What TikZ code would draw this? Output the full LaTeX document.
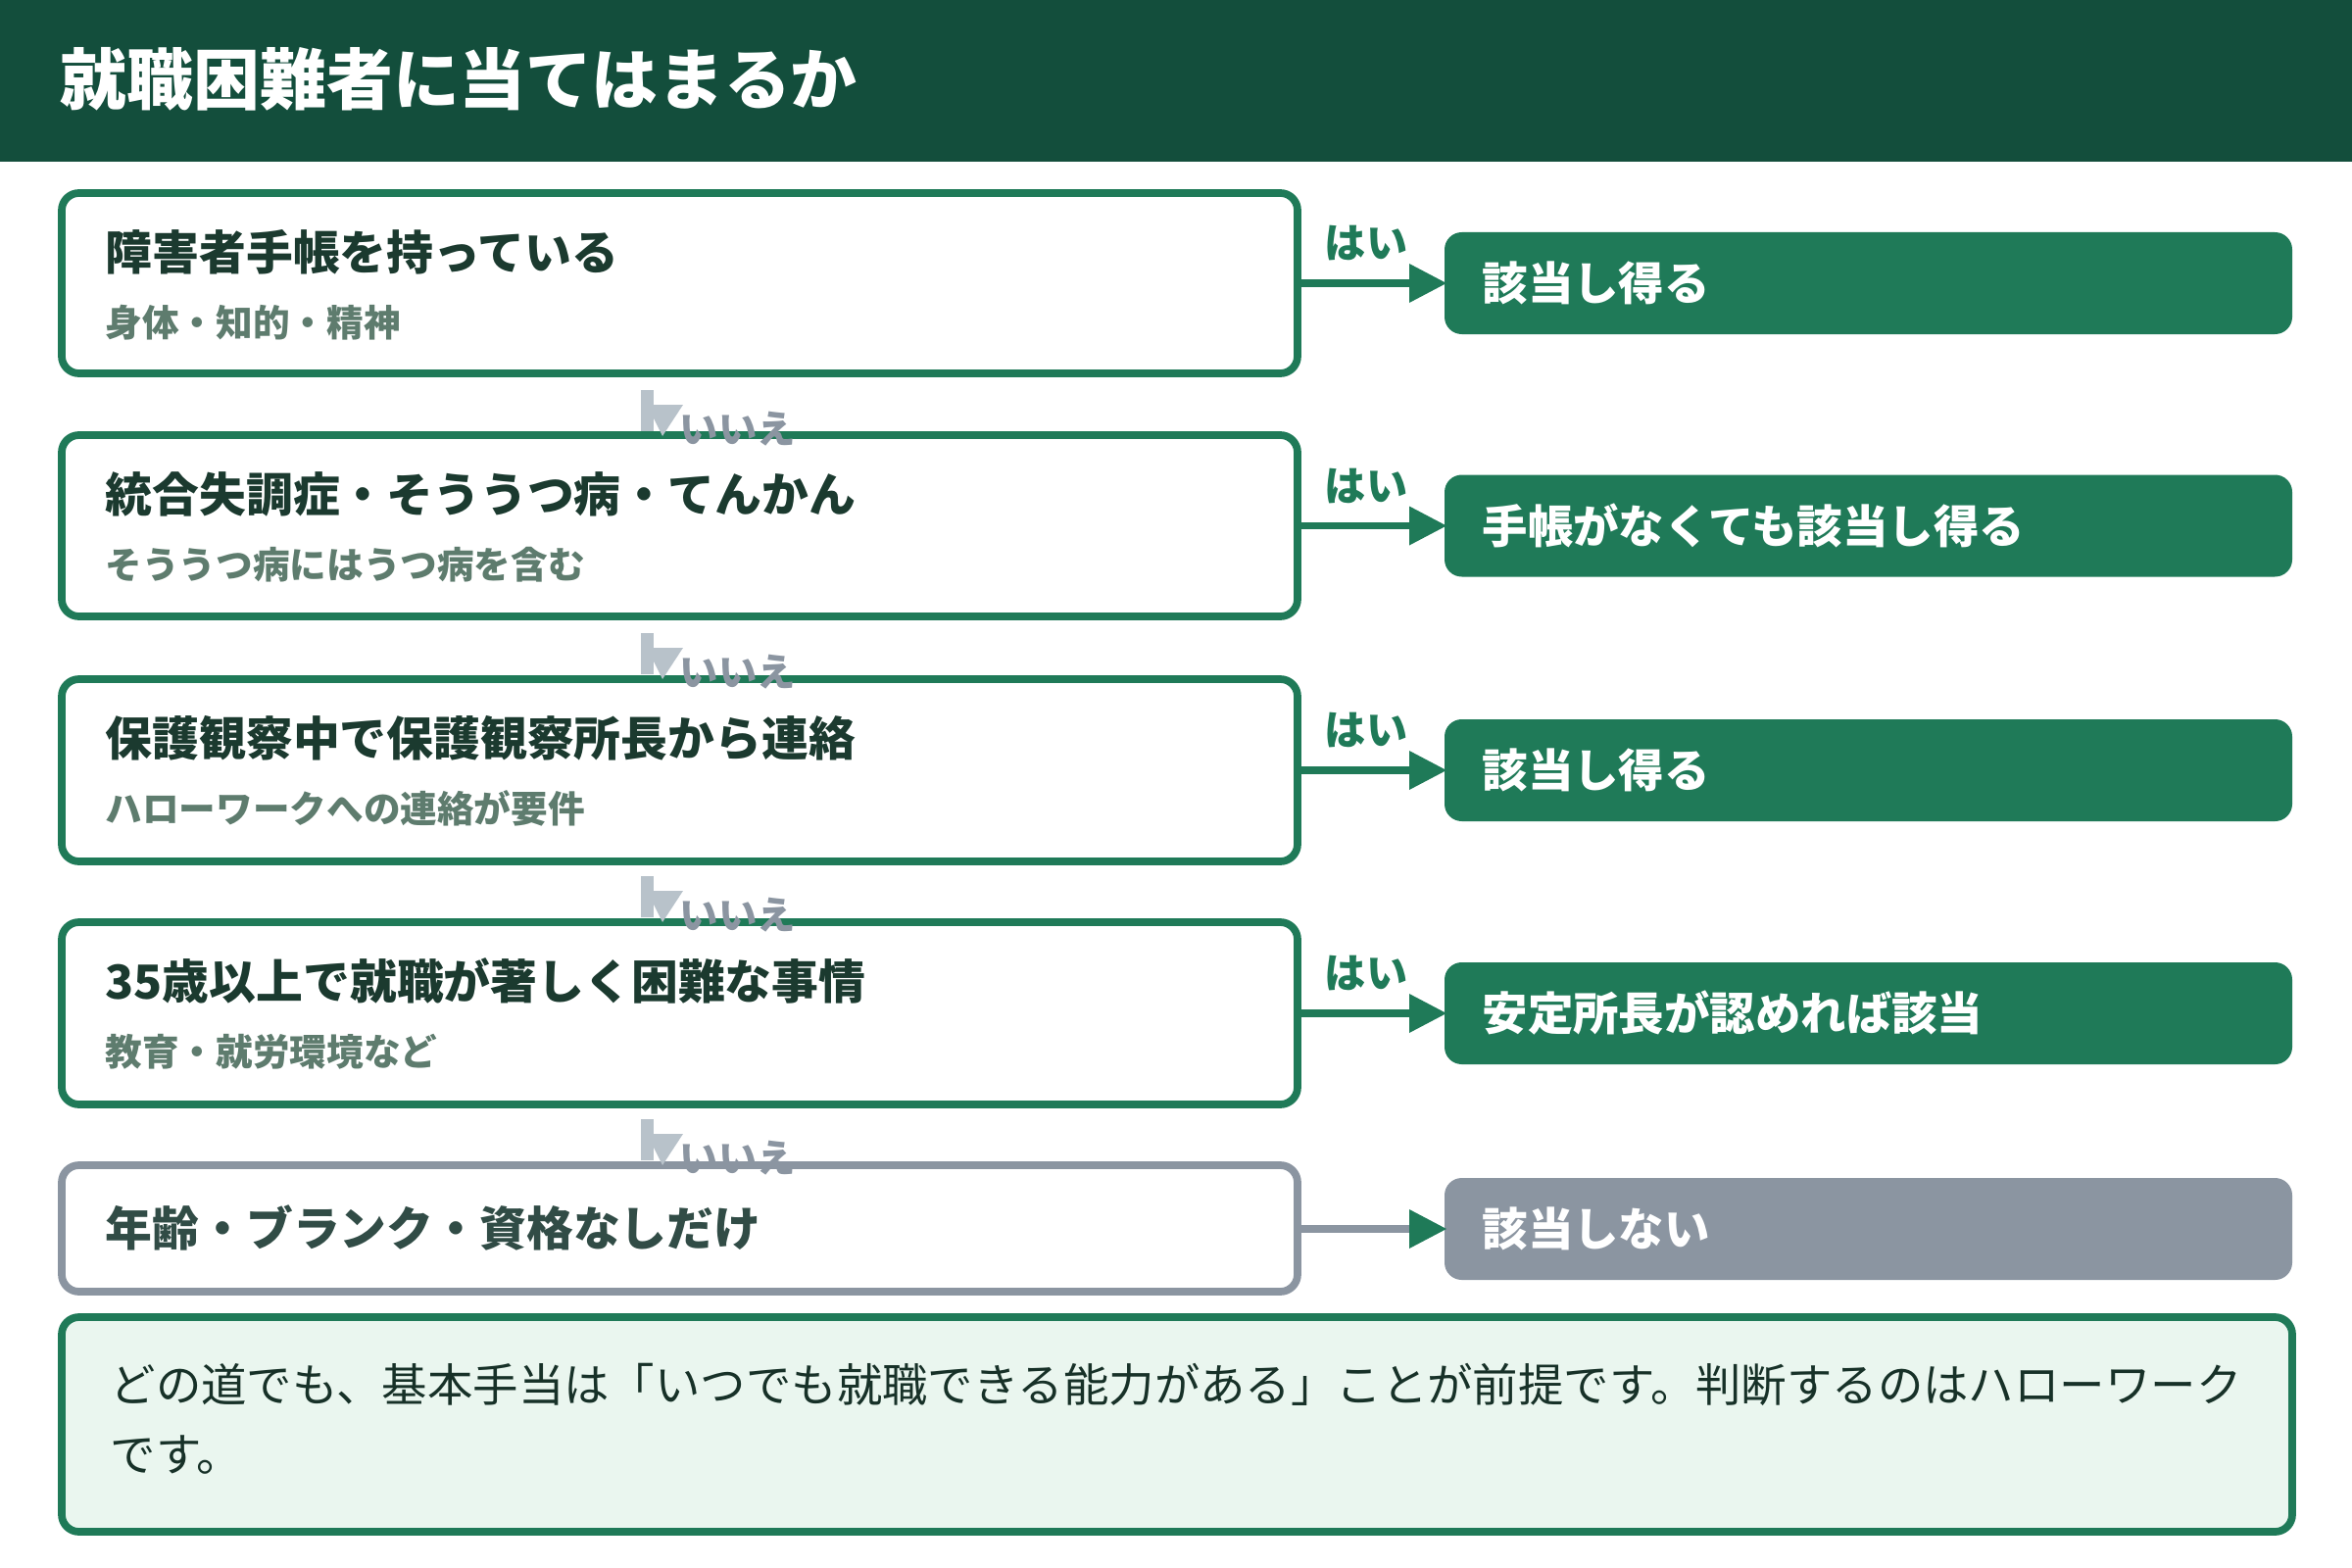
\documentclass[tikz,border=0pt]{standalone}
\usepackage{fontspec}
\setmainfont{Noto Sans CJK JP}
\usetikzlibrary{positioning}
\definecolor{hdgreen}{HTML}{134E3C}
\definecolor{bxgreen}{HTML}{1F7A58}
\definecolor{txdark}{HTML}{1B3A2F}
\definecolor{txsub}{HTML}{5E7C6E}
\definecolor{gry}{HTML}{8B95A1}
\definecolor{lgry}{HTML}{B8C2CA}
\definecolor{notefill}{HTML}{EAF6EF}
\tikzset{
  qbox/.style={draw=bxgreen, line width=2.2pt, rounded corners=5pt, fill=white},
  abox/.style={fill=bxgreen, rounded corners=5pt},
  qtitle/.style={anchor=west, inner sep=0pt, font=\fontsize{13.6}{16}\selectfont\bfseries, text=txdark},
  qsub/.style={anchor=west, inner sep=0pt, font=\fontsize{10.7}{13}\selectfont\bfseries, text=txsub},
  atext/.style={anchor=west, inner sep=0pt, font=\fontsize{13.2}{16}\selectfont\bfseries, text=white},
  yes/.style={anchor=south, inner sep=0pt, font=\fontsize{12}{14}\selectfont\bfseries, text=bxgreen},
  no/.style={anchor=west, inner sep=0pt, font=\fontsize{11.2}{13}\selectfont\bfseries, text=gry},
  flow/.style={line width=2pt, draw=bxgreen},
}
\begin{document}
\begin{tikzpicture}[x=0.01cm, y=-0.01cm]
\useasboundingbox (0,0) rectangle (2400,1600);
% header
\fill[hdgreen] (0,0) rectangle (2400,165);
\node[anchor=west, inner sep=0pt, text=white, font=\fontsize{19.3}{24}\selectfont\bfseries] (title) at (61,81) {就職困難者に当てはまるか};
% question boxes with answers
\foreach \i/\ya/\yb/\t/\s/\ans in {
  1/197/381/障害者手帳を持っている/身体・知的・精神/該当し得る,
  2/444/629/統合失調症・そううつ病・てんかん/そううつ病にはうつ病を含む/手帳がなくても該当し得る,
  3/693/879/保護観察中で保護観察所長から連絡/ハローワークへの連絡が要件/該当し得る,
  4/941/1127/35歳以上で就職が著しく困難な事情/教育・就労環境など/安定所長が認めれば該当} {
  \draw[qbox] (63,\ya) rectangle (1324,\yb);
  \node[qtitle] (q\i) at (107,\ya+60) {\t};
  \node[qsub] (s\i) at (107,\ya+132) {\s};
  \fill[abox] (1474,{(\ya+\yb)/2-52}) rectangle (2339,{(\ya+\yb)/2+52});
  \node[atext] (a\i) at (1512,{(\ya+\yb)/2}) {\ans};
  \draw[flow] (1324,{(\ya+\yb)/2}) -- (1440,{(\ya+\yb)/2});
  \fill[bxgreen] (1438,{(\ya+\yb)/2-20}) -- (1476,{(\ya+\yb)/2}) -- (1438,{(\ya+\yb)/2+20}) -- cycle;
  \node[yes] (y\i) at (1394,{(\ya+\yb)/2-22}) {はい};
}
% last box
\draw[qbox, draw=gry] (63,1189) rectangle (1324,1318);
\node[qtitle, text=txdark!80!gry] (q5) at (107,1253) {年齢・ブランク・資格なしだけ};
\fill[abox, fill=gry] (1474,1202) rectangle (2339,1306);
\node[atext] (a5) at (1512,1254) {該当しない};
\draw[line width=2pt, draw=gry] (1324,1254) -- (1440,1254);
\fill[bxgreen] (1438,1234) -- (1476,1254) -- (1438,1274) -- cycle;
% no arrows
\foreach \y in {398,646,894,1142} {
  \fill[lgry] (654,\y) rectangle (667,\y+42);
  \fill[lgry] (660,\y+15) -- (697,\y+15) -- (676,\y+47) -- cycle;
  \node[no] at (693,\y+40) {いいえ};
}
% note
\draw[qbox, fill=notefill] (63,1344) rectangle (2339,1563);
\node[anchor=west, inner sep=0pt, text=txdark!85!black, font=\fontsize{13.2}{16}\selectfont] (n1) at (112,1413) {どの道でも、基本手当は「いつでも就職できる能力がある」ことが前提です。判断するのはハローワーク};
\node[anchor=west, inner sep=0pt, text=txdark!85!black, font=\fontsize{13.2}{16}\selectfont] (n2) at (112,1485) {です。};
\end{tikzpicture}
\end{document}
